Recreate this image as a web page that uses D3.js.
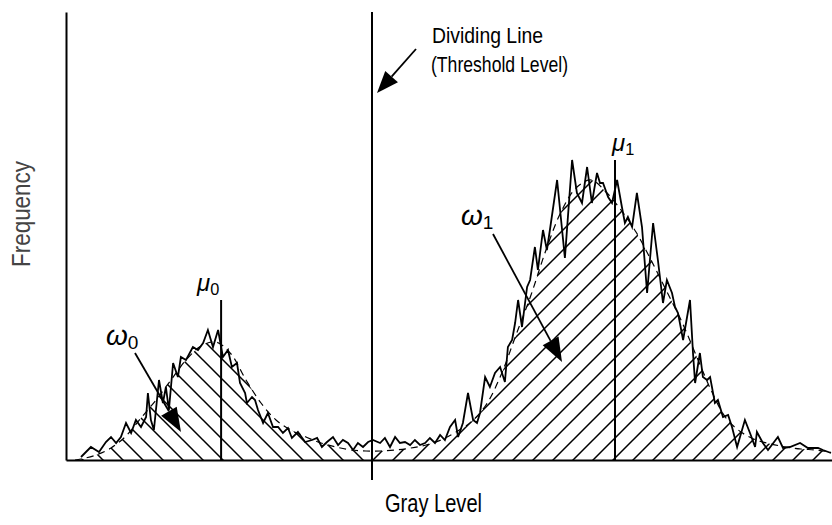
<!DOCTYPE html>
<html><head><meta charset="utf-8">
<script src="https://cdn.jsdelivr.net/npm/d3@7"></script>
<style>body{margin:0;background:#fff} svg{display:block;font-family:"Liberation Sans",Arial,sans-serif}</style>
</head><body><svg id="c" width="832" height="525"></svg>
<script>
// Noisy histogram (gray level, frequency)
const noisyLevel=[5,8.3,11,13.3,15,16.7,18.3,20,21.7,23.3,25,26.7,27.3,28.3,29.3,31,32.3,33.3,34.3,35.7,37.3,38.3,40,42.3,44,45.7,47.3,49,50.7,52.3,54,55.3,57,58,59.7,60.3,62,63,64,65.7,67.3,69,70.7,72.3,74,75.3,77.3,79.7,82,83.7,85.3,87,89,90.7,92.3,94,95.7,97.3,99,100.7,102.3,104.7,106.3,108,109.7,111.3,113,114.7,116.3,118,119.7,121.3,123,124.7,126.3,128,129.7,130.7,132.3,134,135.7,137,138,139.7,141.3,143,144.7,146.3,147.3,148.7,149.7,150.7,152,153.7,154.7,156.3,157.3,159,160.3,161.3,163.7,166.3,168.7,170.3,172,173.7,175.3,177,178,179,180.7,182,183.7,185.3,186.3,187.3,188.7,190.3,192,193.7,195.7,197.3,199,200.3,202,203,204,205.7,208,209,209.7,211.3,212.3,213.7,214.7,216.3,217.3,219,220.7,222,223.7,226.3,228,229.7,230.3,232.3,234,237.3,239,241.3,244.7,247.3,250.7,252.3,255];
const noisyFreq=[3,13,8,18,23,17,23,37,27,40,33,43,67,40,30,80,57,73,50,97,83,103,100,113,110,117,130,113,130,103,110,93,97,77,67,57,63,60,50,37,47,33,33,27,32,22,28,18,20,22,13,18,23,15,20,17,10,17,13,18,20,17,22,13,23,17,18,15,20,15,17,22,17,25,20,33,40,23,37,67,40,37,47,83,73,87,93,78,113,120,137,160,133,173,180,213,190,230,210,230,280,202,300,267,257,293,257,287,277,277,263,257,280,253,237,243,233,267,233,167,237,200,157,180,167,153,147,120,160,107,77,107,83,80,83,57,60,43,45,33,13,40,27,13,28,17,10,23,12,13,17,12,12,10,7];
// Smoothed (dashed) distribution
const smoothLevel=[3,5,10,15,20,25,30,35,40,45,50,55,60,65,70,75,80,85,90,95,100,105,110,115,120,125,130,135,140,145,150,155,160,165,170,175,180,185,190,195,200,205,210,215,220,225,230,235,240,245,250,255];
const smoothFreq=[0,1,5,12,24,42,60,80,100,114,118,106,80,57,40,30,23,17,13,10,9,9,10,12,15,20,28,38,55,85,125,165,210,248,272,280,268,250,228,200,170,140,105,70,42,28,20,16,13,11,10,8];
const thresholdLevel=102;
const meanLevels=[51.7,183];
const meanTopFreq=[160,300];
const meanLabels=["0","1"];

const svg=d3.select("#c");
const x=d3.scaleLinear().domain([0,766/3]).range([66,832]);
const y=d3.scaleLinear().domain([0,448]).range([460,12]);

const defs=svg.append("defs");
const pL=defs.append("pattern").attr("id","hatchL").attr("patternUnits","userSpaceOnUse")
  .attr("width",20).attr("height",20).attr("x",3).attr("y",0);
pL.append("path").attr("d","M0,0L20,20M-10,10L10,30M10,-10L30,10").attr("stroke","#000").attr("stroke-width",1.5);
const pR=defs.append("pattern").attr("id","hatchR").attr("patternUnits","userSpaceOnUse")
  .attr("width",20).attr("height",20).attr("x",13).attr("y",0);
pR.append("path").attr("d","M0,20L20,0M-10,10L10,-10M10,30L30,10").attr("stroke","#000").attr("stroke-width",1.5);
defs.append("clipPath").attr("id","clipL").append("rect")
  .attr("x",x(0)).attr("y",0).attr("width",x(thresholdLevel)-x(0)).attr("height",y(0));
defs.append("clipPath").attr("id","clipR").append("rect")
  .attr("x",x(thresholdLevel)).attr("y",0).attr("width",832-x(thresholdLevel)).attr("height",y(0));

const smooth=smoothLevel.map((g,i)=>({g,f:smoothFreq[i]}));
const noisy=noisyLevel.map((g,i)=>({g,f:noisyFreq[i]}));

const area=d3.area().x(d=>x(d.g)).y0(y(0)).y1(d=>y(d.f)).curve(d3.curveCatmullRom);
svg.append("path").datum(smooth).attr("d",area).attr("fill","url(#hatchL)").attr("clip-path","url(#clipL)");
svg.append("path").datum(smooth).attr("d",area).attr("fill","url(#hatchR)").attr("clip-path","url(#clipR)");

const sline=d3.line().x(d=>x(d.g)).y(d=>y(d.f)).curve(d3.curveCatmullRom);
svg.append("path").datum(smooth).attr("d",sline).attr("fill","none").attr("stroke","#000")
  .attr("stroke-width",1.2).attr("stroke-dasharray","7,5");

const nline=d3.line().x(d=>x(d.g)).y(d=>y(d.f));
svg.append("path").datum(noisy).attr("d",nline).attr("fill","none").attr("stroke","#000")
  .attr("stroke-width",1.8).attr("stroke-linejoin","miter");

// axes
svg.append("g").attr("transform",`translate(${x(0)},0)`)
  .call(d3.axisLeft(y).tickValues([]).tickSizeOuter(0))
  .call(g=>g.select(".domain").attr("stroke-width",2));
svg.append("g").attr("transform",`translate(0,${y(0)})`)
  .call(d3.axisBottom(x).tickValues([]).tickSizeOuter(0))
  .call(g=>g.select(".domain").attr("stroke-width",2));

// threshold line
svg.append("line").attr("x1",x(thresholdLevel)).attr("x2",x(thresholdLevel))
  .attr("y1",y(448)).attr("y2",y(0)+20).attr("stroke","#000").attr("stroke-width",2);

// mean lines
meanLevels.forEach((m,i)=>{
  svg.append("line").attr("x1",x(m)).attr("x2",x(m)).attr("y1",y(meanTopFreq[i])).attr("y2",y(0))
    .attr("stroke","#000").attr("stroke-width",2);
});

function arrow(x1,y1,x2,y2,len,w){
  const dx=x2-x1,dy=y2-y1,L=Math.hypot(dx,dy),ux=dx/L,uy=dy/L;
  const bx=x2-ux*len,by=y2-uy*len;
  svg.append("line").attr("x1",x1).attr("y1",y1).attr("x2",bx).attr("y2",by).attr("stroke","#000").attr("stroke-width",1.8);
  svg.append("polygon").attr("points",[[x2,y2],[bx-uy*w/2,by+ux*w/2],[bx+uy*w/2,by-ux*w/2]].map(p=>p.join(",")).join(" ")).attr("fill","#000");
}
arrow(416,49,377,93,22,17);
arrow(135,353,181,432,24,18);
arrow(493,234,562,362,24,18);

// labels
function sym(ch,sub,x0,yb,size){
  const t=svg.append("text").attr("x",x0).attr("y",yb).attr("font-size",size).attr("fill","#000");
  t.append("tspan").attr("font-style","italic").text(ch);
  t.append("tspan").attr("font-size",size*0.68).attr("dy",4).text(sub);
}
sym("\u03c9",meanLabels[0],106,345,28);
sym("\u03c9",meanLabels[1],461,225,28);
sym("\u03bc",meanLabels[0],x(meanLevels[0])-24,y(meanTopFreq[0])-9,24);
sym("\u03bc",meanLabels[1],x(meanLevels[1])-3,y(meanTopFreq[1])-9,24);

svg.append("text").attr("x",432).attr("y",43).attr("font-size",22)
  .attr("textLength",111).attr("lengthAdjust","spacingAndGlyphs").text("Dividing Line");
svg.append("text").attr("x",431).attr("y",72).attr("font-size",22)
  .attr("textLength",137).attr("lengthAdjust","spacingAndGlyphs").text("(Threshold Level)");
svg.append("text").attr("x",385).attr("y",512).attr("font-size",25)
  .attr("textLength",97).attr("lengthAdjust","spacingAndGlyphs").text("Gray Level");
svg.append("text").attr("transform","translate(30,214) rotate(-90)").attr("text-anchor","middle")
  .attr("font-size",26).attr("fill","#444").attr("textLength",106).attr("lengthAdjust","spacingAndGlyphs").text("Frequency");
</script></body></html>
